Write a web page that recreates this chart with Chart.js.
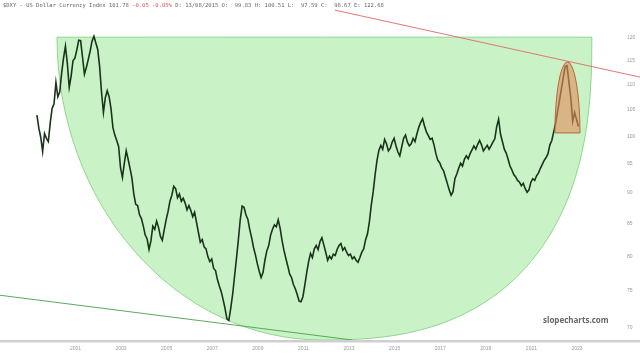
<!DOCTYPE html>
<html>
<head>
<meta charset="utf-8">
<script src="https://cdn.jsdelivr.net/npm/chart.js"></script>
<style>
  html, body { margin: 0; padding: 0; background: #fff; }
  #wrap { position: relative; width: 640px; height: 354px; }
  #hdr { position: absolute; left: 3px; top: 2px; z-index: 2; white-space: nowrap;
         font: 5.5px "DejaVu Sans Mono", monospace; color: #666; }
  #hdr .dn { color: #e05050; }
</style>
</head>
<body>
<div id="wrap">
  <div id="hdr">$DXY - US Dollar Currency Index 101.78 <span class="dn">-0.05 -0.05%</span> D: 13/08/2015 O: &nbsp;99.83 H: 100.51 L: &nbsp;97.59 C: &nbsp;98.67 E: 122.68</div>
  <canvas id="dxyChart" width="640" height="354"></canvas>
</div>
<script>
// US Dollar index, monthly closes
const startYear = 1999.31;
const dxyValues = [
  104, 101.5, 99.8, 97.2, 100.5, 99.6, 99, 102.5, 105.3, 106.2,
  110.5, 107.6, 108.6, 112.4, 115.6, 118.2, 114.5, 109.5, 111.8, 115.1,
  115.6, 117.4, 119.5, 119.4, 115.8, 112.2, 113.6, 115.3, 117.1, 119.3,
  120.4, 118.9, 117.5, 113.8, 108.5, 104.5, 107.4, 108.8, 107.6, 105.2,
  101.6, 100.2, 99.2, 98.1, 94.3, 92.6, 95.1, 97.3, 95.8, 94.2,
  92.5, 89.8, 88.1, 87.9, 86.4, 85.8, 84.6, 83.2, 82.6, 81,
  82.3, 84.6, 84.1, 85.4, 84.4, 83, 82.4, 84, 85.6, 86.9,
  88.6, 89.6, 91.1, 90.7, 89.2, 89.8, 88.6, 89.1, 88.3, 87.2,
  87.9, 87.1, 86.1, 86.8, 85.2, 83.6, 82.1, 82.5, 81.4, 81.1,
  79.9, 79.2, 79.6, 78.2, 77.9, 76.6, 75.7, 74.9, 73.8, 72.6,
  71.2, 71, 72.6, 74.5, 77, 79.6, 82.4, 85.6, 87.8, 87.6,
  86.4, 85.7, 84.1, 82.8, 81.3, 80.2, 78.9, 77.8, 76.9, 77.6,
  79.4, 80.8, 81.6, 83.2, 84.1, 84.8, 84.5, 85.6, 84.3, 82.4,
  80.9, 79.7, 78.6, 77.4, 76.9, 75.9, 75.3, 74.5, 73.6, 73.5,
  74.2, 75.8, 77.6, 79.2, 80.4, 79.8, 81.1, 81.6, 81, 82.2,
  82.8, 81.7, 80.6, 79.4, 80, 79.6, 80.3, 80.1, 81, 81.6,
  81.9, 80.9, 81.3, 80.6, 80.1, 80.3, 79.6, 79.9, 79.4, 79.1,
  79.8, 80.6, 81.1, 82.5, 83.4, 85.3, 88, 90.2, 93.1, 95.6,
  97.4, 98.3, 97.6, 99.4, 98.6, 97.3, 97.8, 98.9, 99.6, 98.2,
  97.1, 96.4, 98, 99.6, 100.2, 98.9, 98.2, 98.6, 99.6, 99,
  100.4, 101.7, 102.6, 103.3, 101.9, 100.8, 100.1, 99.4, 99.6, 98.4,
  96.8, 95.6, 95.2, 94.3, 93.8, 92.7, 91.6, 90.5, 89.6, 90.2,
  92.4, 93.2, 94.2, 95.1, 94.6, 95.8, 96.4, 95.9, 96.8, 97.5,
  98.2, 97.6, 98.5, 99.2, 98.4, 97.3, 97.8, 98.3, 97.6, 98.2,
  98.9, 99.5, 101.8, 103.2, 100.4, 99, 97.6, 96.9, 95.8, 94.6,
  93.9, 93.1, 92.7, 92.1, 91.8, 91.2, 91.6, 90.7, 90.1, 90.5,
  91.8, 92.4, 92.1, 92.9, 93.4, 94.2, 94.9, 95.6, 96.1, 96.8,
  98.4, 99.2, 100.8, 102.4, 104.6, 106.8, 109.1, 111.4, 113.8, 114,
  110.6, 107.4, 102.8, 104.5, 103.2, 101.8
];
const yearTicks = [2001, 2003, 2005, 2007, 2009, 2011, 2013, 2015, 2017, 2019, 2021, 2023];
const priceTicks = [70, 75, 80, 85, 90, 95, 100, 105, 110, 115, 120];

// drawings on the chart, in year / price units
const bigArc = { left: 2000.19, low: 2011.81, right: 2023.65, flat: 120.2 };  // bowl hanging down to the axis
const peakArc = { from: 2022.03, to: 2023.13, flat: 100.6, tip: 114.8 };
const redTrend = [[2012.38, 126.4], [2025.76, 111.6]];
const greenTrend = [[1997.69, 74.4], [2013.14, 68.46]];

const points = dxyValues.map((v, i) => ({ x: startYear + i / 12, y: v }));

const drawings = {
  id: 'drawings',
  beforeDatasetsDraw(chart) {
    const { ctx, scales: { x, y }, chartArea } = chart;
    const xl = x.getPixelForValue(bigArc.left), xb = x.getPixelForValue(bigArc.low);
    const xr = x.getPixelForValue(bigArc.right);
    const top = y.getPixelForValue(bigArc.flat), h = chartArea.bottom - top;
    ctx.save();
    ctx.beginPath();
    ctx.moveTo(xl, top);
    ctx.ellipse(xb, top, xb - xl, h, 0, Math.PI, Math.PI / 2, true);
    // right side is a little squarer than the left
    for (let k = 1; k <= 40; k++) {
      const a = Math.PI / 2 * (1 - k / 40);
      ctx.lineTo(xb + (xr - xb) * Math.pow(Math.cos(a), 0.8), top + h * Math.pow(Math.sin(a), 0.8));
    }
    ctx.closePath();
    ctx.fillStyle = '#c9f3c7';
    ctx.fill();
    ctx.strokeStyle = '#8fd68c';
    ctx.lineWidth = 1;
    ctx.stroke();
    ctx.restore();
  },
  afterDatasetsDraw(chart) {
    const { ctx, scales: { x, y }, chartArea } = chart;
    ctx.save();
    // peak half ellipse
    const p0 = x.getPixelForValue(peakArc.from), p1 = x.getPixelForValue(peakArc.to);
    const base = y.getPixelForValue(peakArc.flat), tip = y.getPixelForValue(peakArc.tip);
    ctx.beginPath();
    ctx.ellipse((p0 + p1) / 2, base, (p1 - p0) / 2, base - tip, 0, Math.PI, 2 * Math.PI);
    ctx.closePath();
    ctx.fillStyle = 'rgba(228, 140, 92, 0.62)';
    ctx.fill();
    ctx.strokeStyle = '#b8683a';
    ctx.lineWidth = 1;
    ctx.stroke();

    const line = (pts, color) => {
      ctx.beginPath();
      ctx.moveTo(x.getPixelForValue(pts[0][0]), y.getPixelForValue(pts[0][1]));
      ctx.lineTo(x.getPixelForValue(pts[1][0]), y.getPixelForValue(pts[1][1]));
      ctx.strokeStyle = color;
      ctx.lineWidth = 0.9;
      ctx.stroke();
    };
    line(redTrend, '#e06868');
    line(greenTrend, '#4aa04a');

    // bottom axis band
    ctx.fillStyle = '#cfcfcf';
    ctx.fillRect(0, chartArea.bottom, chart.width, 2.5);

    ctx.fillStyle = '#666';
    ctx.font = 'bold 8px "Open Sans", sans-serif';
    ctx.textAlign = 'left';
    ctx.textBaseline = 'middle';
    ctx.fillText('slopecharts.com', 543, 321);
    ctx.restore();
  }
};

new Chart(document.getElementById('dxyChart'), {
  type: 'line',
  data: {
    datasets: [{
      data: points,
      borderColor: '#1a331a',
      borderWidth: 1.6,
      pointRadius: 0,
      tension: 0
    }]
  },
  options: {
    responsive: false,
    animation: false,
    layout: { padding: 0, autoPadding: false },
    plugins: { legend: { display: false }, tooltip: { enabled: false } },
    scales: {
      x: {
        type: 'linear',
        min: 1997.69,
        max: 2023.92,
        afterBuildTicks: s => { s.ticks = yearTicks.map(v => ({ value: v })); },
        afterFit: s => { s.height = 14; s.paddingLeft = 0; s.paddingRight = 0; },
        grid: { display: false, drawTicks: false },
        border: { display: false },
        ticks: { color: '#999', font: { size: 5 }, padding: 6, maxRotation: 0, callback: v => String(v) }
      },
      y: {
        type: 'logarithmic',
        position: 'right',
        min: 68.46,
        max: 128.8,
        afterBuildTicks: s => { s.ticks = priceTicks.map(v => ({ value: v })); },
        afterFit: s => { s.width = 42; s.paddingTop = 0; s.paddingBottom = 0; },
        grid: { display: false, drawTicks: false },
        border: { display: false },
        ticks: { color: '#999', font: { size: 5 }, padding: 29, callback: v => String(v) }
      }
    }
  },
  plugins: [drawings]
});
</script>
</body>
</html>
